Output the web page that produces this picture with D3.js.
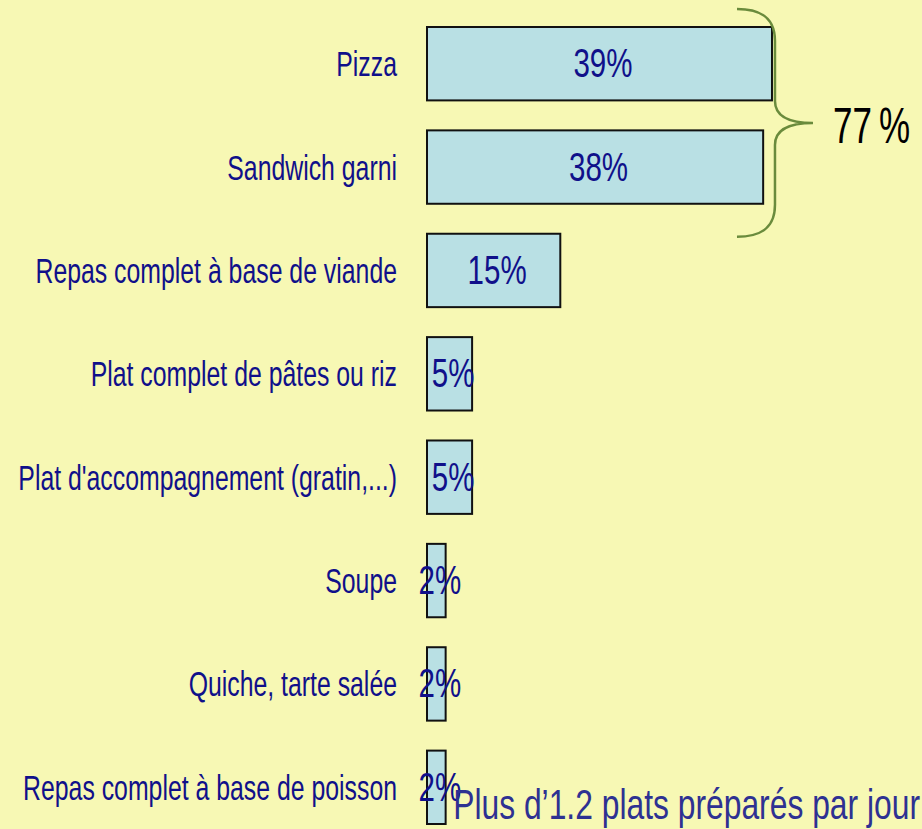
<!DOCTYPE html>
<html>
<head>
<meta charset="utf-8">
<script src="https://cdn.jsdelivr.net/npm/d3@7"></script>
<style>
  html, body { margin: 0; padding: 0; background: #f7f8b4; }
  svg { display: block; }
  text { font-family: "Liberation Sans", Arial, sans-serif; }
</style>
</head>
<body>
<svg id="chart" width="922" height="829"></svg>
<script>
const categories = [
  "Pizza",
  "Sandwich garni",
  "Repas complet à base de viande",
  "Plat complet de pâtes ou riz",
  "Plat d'accompagnement (gratin,...)",
  "Soupe",
  "Quiche, tarte salée",
  "Repas complet à base de poisson"
];
const values = [39, 38, 15, 5, 5, 2, 2, 2];
const valueLabels = ["39%", "38%", "15%", "5%", "5%", "2%", "2%", "2%"];
const groupTotalLabel = "77\u2009%";
const groupedCategories = ["Pizza", "Sandwich garni"];
const footnote = "Plus d\u20191.2 plats préparés par jour";

const W = 922, H = 829;
const svg = d3.select("#chart");
svg.append("rect").attr("width", W).attr("height", H).attr("fill", "#f7f8b4");

const x = d3.scaleLinear().domain([0, 100]).range([427, 1309]);
const y = d3.scaleBand().domain(categories).range([27, 824]).paddingInner(0.29).paddingOuter(0);

const data = categories.map((c, i) => ({ c, v: values[i], l: valueLabels[i] }));

// bars
svg.append("g").selectAll("rect").data(data).join("rect")
  .attr("x", x(0))
  .attr("y", d => y(d.c))
  .attr("width", d => x(d.v) - x(0) + 1)
  .attr("height", y.bandwidth())
  .attr("fill", "#b9e0e4")
  .attr("stroke", "#111")
  .attr("stroke-width", 2);

// category labels
svg.append("g").selectAll("text").data(data).join("text")
  .attr("transform", d => `translate(${x(0) - 30},${y(d.c) + y.bandwidth() / 2 + 12.5}) scale(0.69,1)`)
  .attr("text-anchor", "end")
  .attr("font-size", 36)
  .attr("fill", "#10108a")
  .text(d => d.c);

// value labels
svg.append("g").selectAll("text").data(data).join("text")
  .attr("transform", d => `translate(${(x(0) + x(d.v)) / 2 + 4},${y(d.c) + y.bandwidth() / 2 + 13.5}) scale(0.72,1)`)
  .attr("text-anchor", "middle")
  .attr("font-size", 41)
  .attr("fill", "#10108a")
  .text(d => d.l);

// brace around grouped bars
const gTop = y(groupedCategories[0]) - 18;
const gBot = y(groupedCategories[1]) + y.bandwidth() + 33;
const bx = x(d3.max(values)) + 4;
const bMid = (gTop + gBot) / 2;
const tipX = bx + 38;
const bStart = bx - 38;
const p = d3.path();
p.moveTo(bStart, gTop);
p.bezierCurveTo(bx - 10, gTop, bx, gTop + 12, bx, gTop + 32);
p.lineTo(bx, bMid - 22);
p.bezierCurveTo(bx, bMid - 6, bx + 14, bMid, tipX, bMid);
p.bezierCurveTo(bx + 14, bMid, bx, bMid + 6, bx, bMid + 22);
p.lineTo(bx, gBot - 32);
p.bezierCurveTo(bx, gBot - 12, bx - 10, gBot, bStart, gBot);
svg.append("path")
  .attr("d", p.toString())
  .attr("fill", "none")
  .attr("stroke", "#6a8b3c")
  .attr("stroke-width", 2.5);

svg.append("text")
  .attr("transform", `translate(${tipX + 20},${bMid + 20}) scale(0.7,1)`)
  .attr("font-size", 50)
  .attr("fill", "#000")
  .text(groupTotalLabel);

// footnote
svg.append("text")
  .attr("transform", `translate(920,${H - 10}) scale(0.74,1)`)
  .attr("text-anchor", "end")
  .attr("font-size", 43)
  .attr("fill", "#2e3192")
  .text(footnote);
</script>
</body>
</html>
